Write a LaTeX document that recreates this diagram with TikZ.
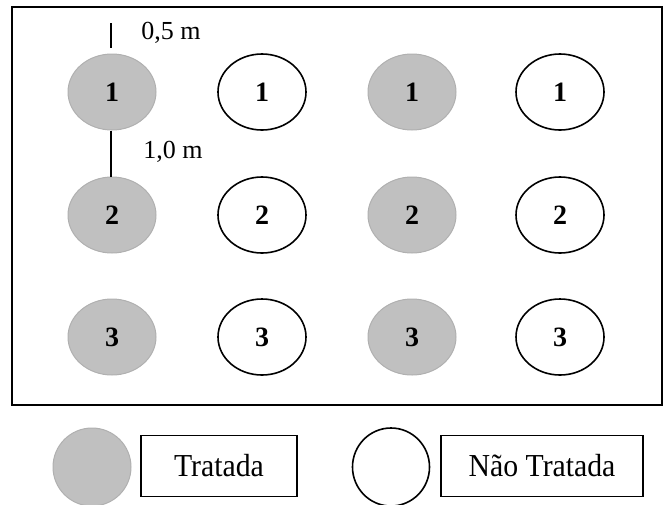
\documentclass[tikz,border=0pt]{standalone}
\usepackage{fontspec}
\setmainfont{Liberation Serif}
\usetikzlibrary{shapes.geometric}
\definecolor{plantgray}{HTML}{C0C0C0}
\definecolor{plantedge}{HTML}{B0B0B0}
\begin{document}
\begin{tikzpicture}[x=1pt,y=-1pt,
  treated/.style={ellipse,fill=plantgray,draw=plantedge,line width=1pt,minimum width=88pt,minimum height=76pt,inner sep=0pt,font=\fontsize{28}{28}\selectfont\bfseries},
  untreated/.style={ellipse,fill=white,draw=black,line width=1.6pt,minimum width=88pt,minimum height=76pt,inner sep=0pt,font=\fontsize{28}{28}\selectfont\bfseries},
  legbox/.style={draw=black,line width=1.5pt,inner sep=0pt,font=\fontsize{32}{32}\selectfont},
  dimlabel/.style={inner sep=0pt,font=\fontsize{26}{26}\selectfont}]
\useasboundingbox (0,0) rectangle (668,504);
\node[draw=black,line width=1.8pt,minimum width=650pt,minimum height=398pt,inner sep=0pt] (frame) at (337,206) {};
% row 1
\node[treated] (a1) at (112,92) {1};
\node[untreated] (b1) at (262,92) {1};
\node[treated] (c1) at (412,92) {1};
\node[untreated] (d1) at (560,92) {1};
% row 2
\node[treated] (a2) at (112,215) {2};
\node[untreated] (b2) at (262,215) {2};
\node[treated] (c2) at (412,215) {2};
\node[untreated] (d2) at (560,215) {2};
% row 3
\node[treated] (a3) at (112,337) {3};
\node[untreated] (b3) at (262,337) {3};
\node[treated] (c3) at (412,337) {3};
\node[untreated] (d3) at (560,337) {3};
% dimensions
\coordinate (tickTop) at (111,23);
\coordinate (tickBot) at (111,48);
\draw[line width=1.4pt] (tickTop) -- (tickBot);
\draw[line width=1.4pt] ([xshift=-1pt]a1.south) -- ([xshift=-1pt]a2.north);
\node[dimlabel] (d05) at (171,33) {0,5 m};
\node[dimlabel] (d10) at (173,152) {1,0 m};
% legend
\node[treated,minimum width=78pt,minimum height=78pt] (lt) at (92,467) {};
\node[legbox,minimum width=156pt,minimum height=61pt] (ltt) at (219,466) {\scalebox{0.93}[1]{Tratada}};
\node[untreated,minimum width=77pt,minimum height=78pt] (lu) at (391,467) {};
\node[legbox,minimum width=202pt,minimum height=61pt] (lut) at (542,466) {\scalebox{0.93}[1]{Não Tratada}};
\end{tikzpicture}
\end{document}
